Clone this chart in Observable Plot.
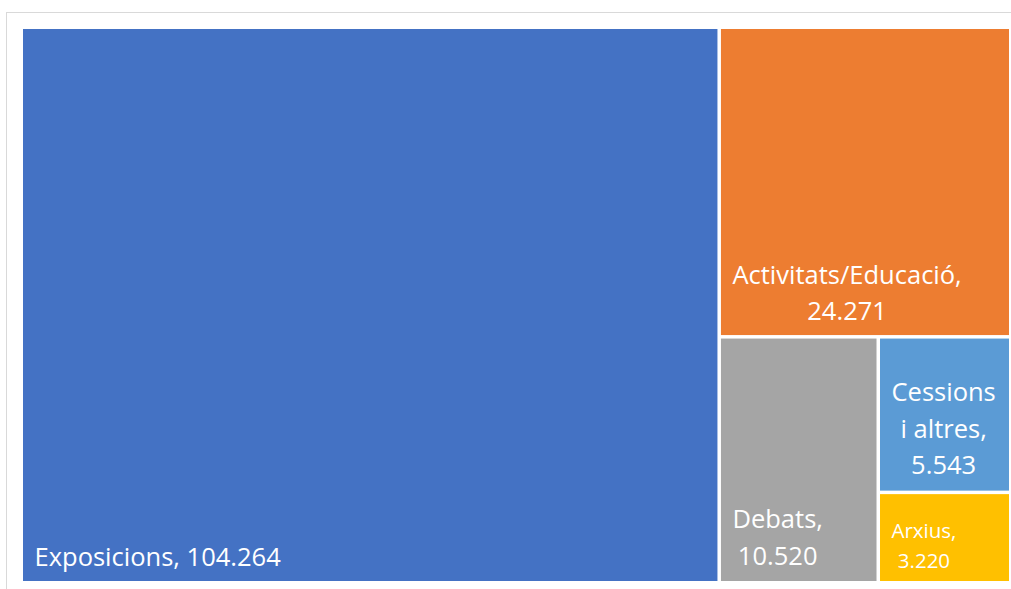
<!DOCTYPE html>
<html><head><meta charset="utf-8">
<script src="https://cdn.jsdelivr.net/npm/d3@7"></script>
<script src="https://cdn.jsdelivr.net/npm/@observablehq/plot@0.6"></script>
<style>
html,body{margin:0;padding:0;background:#fff;overflow:hidden;width:1011px;height:589px}
#frame{position:absolute;left:6px;top:12px;width:1040px;height:620px;border-left:1px solid #d9d9d9;border-top:1px solid #d9d9d9;box-sizing:border-box}
#chart{position:absolute;left:0;top:0}
</style></head><body><div id="frame"></div><div id="chart"></div>
<script>
// Data
const categories = ["Exposicions", "Activitats/Educació", "Debats", "Cessions i altres", "Arxius"];
const values = [104264, 24271, 10520, 5543, 3220];
const valueLabels = ["104.264", "24.271", "10.520", "5.543", "3.220"];
const colors = ["#4472C4", "#ED7D31", "#A5A5A5", "#5B9BD5", "#FFC000"];
const labelLines = [
  ["Exposicions, 104.264"],
  ["Activitats/Educació,", "24.271"],
  ["Debats,", "10.520"],
  ["Cessions", "i altres,", "5.543"],
  ["Arxius,", "3.220"]
];

// Style
const FONT = "Open Sans";
const fontSizes = [25.5, 25.5, 25.5, 25.5, 20.5];
const lineHeights = 1.43;
const bottomOffsets = [16, 15.5, 17, 17, 14];
const leftPad = 11;

const W = 986, H = 552;
const root = d3.hierarchy({children: categories.map((c, i) => ({name: c, value: values[i], i}))})
  .sum(d => d.value || 0)
  .sort((a, b) => b.value - a.value);
d3.treemap().size([W, H]).tile(d3.treemapBinary).paddingInner(3.5)(root);

const ctx = document.createElement("canvas").getContext("2d");
const leaves = root.leaves().map(l => {
  const i = l.data.i;
  ctx.font = `${fontSizes[i]}px "${FONT}"`;
  const maxW = d3.max(labelLines[i], s => ctx.measureText(s).width);
  return {
    name: l.data.name, i, x0: l.x0, x1: l.x1, y0: l.y0, y1: l.y1,
    text: labelLines[i].join("\n"),
    tx: l.x0 + leftPad + maxW / 2,
    ty: l.y1 - bottomOffsets[i],
    fs: fontSizes[i]
  };
});

const chart = Plot.plot({
  width: 1011,
  height: 589,
  marginLeft: 23,
  marginRight: 2,
  marginTop: 29,
  marginBottom: 8,
  x: {domain: [0, W], axis: null},
  y: {domain: [0, H], reverse: true, axis: null},
  color: {domain: categories, range: colors},
  style: {fontFamily: FONT, background: "transparent"},
  marks: [
    Plot.rect(leaves, {x1: "x0", x2: "x1", y1: "y0", y2: "y1", fill: "name"}),
    Plot.text(leaves, {
      x: "tx", y: "ty", text: "text", fill: "white",
      fontSize: "fs", lineAnchor: "bottom", lineHeight: lineHeights,
      textAnchor: "middle", fontFamily: FONT
    })
  ]
});
document.getElementById("chart").appendChild(chart);
</script>
</body></html>
